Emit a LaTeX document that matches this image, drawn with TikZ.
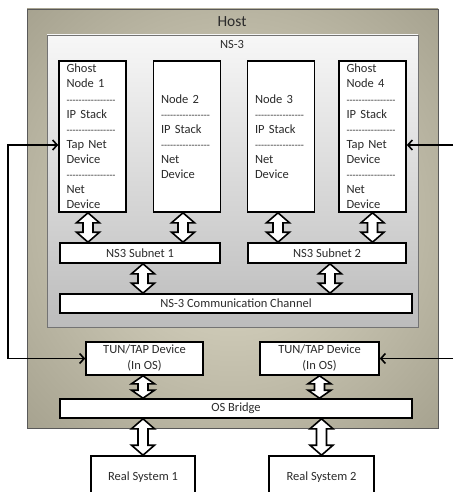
\documentclass[tikz,border=0pt]{standalone}
\usepackage{fontspec}
\setmainfont{Carlito}
\usetikzlibrary{arrows.meta,calc}
\definecolor{txt}{HTML}{2B2B2B}
\definecolor{hostin}{HTML}{E2DECB}
\definecolor{hostout}{HTML}{8E8A77}
\definecolor{nstop}{HTML}{F7F7F7}
\definecolor{nsbot}{HTML}{BCBCBC}
\pgfdeclareradialshading{hostsh}{\pgfpoint{0bp}{0bp}}{color(0bp)=(hostin); color(50bp)=(hostout); color(72bp)=(hostout)}
\newcommand\dl{{\fontsize{10}{15.1}\selectfont -\kern0pt-\kern0pt-\kern0pt-\kern0pt-\kern0pt-\kern0pt-\kern0pt-\kern0pt-\kern0pt-\kern0pt-\kern0pt-\kern0pt-\kern0pt-\kern0pt-\kern0pt-}}
\newcommand{\fatarrow}[3][10]{%
  \draw[fat] let \p1=(#2), \p2=(#3) in
    (\x1,\y1) -- ({\x1+11.5pt},{\y1-#1pt}) -- ({\x1+5pt},{\y1-#1pt}) --
    ({\x1+5pt},{\y2+#1pt}) -- ({\x1+11.5pt},{\y2+#1pt}) -- (\x1,\y2) --
    ({\x1-11.5pt},{\y2+#1pt}) -- ({\x1-5pt},{\y2+#1pt}) --
    ({\x1-5pt},{\y1-#1pt}) -- ({\x1-11.5pt},{\y1-#1pt}) -- cycle;}
\begin{document}
\begin{tikzpicture}[x=1pt,y=-1pt,
  box/.style={draw=black,line width=1.6pt,fill=white,text=txt,
    font=\fontsize{12.5}{15.1}\selectfont,inner sep=0pt,align=center},
  col/.style={box,minimum height=151pt,text width=52pt,inner xsep=7.5pt,align=left},
  lbl/.style={text=txt,inner sep=0pt},
  fat/.style={draw=black,line width=1.6pt,fill=white,line join=miter},
  tip/.tip={Straight Barb[length=4.5pt,width=10pt]},
  conn/.style={line width=1.6pt,line join=miter,-tip},
  conn2/.style={line width=1.6pt,line join=miter,tip-tip}]
\useasboundingbox (0,0) rectangle (453,492);
% host
\path[shading=hostsh,draw=black!65] (27,9) rectangle (438,428);
\node[lbl,font=\fontsize{15.5}{18}\selectfont] (hostlbl) at (232,22) {Host};
% ns-3
\path[top color=nstop,bottom color=nsbot,draw=black!55,line width=0.8pt] (47,35) rectangle (418,327);
\node[lbl,font=\fontsize{12.5}{15}\selectfont] (nslbl) at (232,44) {NS-3};
% nodes
\node[col] (g1) at (92.5,136.5) {Ghost\\Node 1\\\dl\\IP Stack\\\dl\\Tap Net\\Device\\\dl\\Net\\Device};
\node[col] (n2) at (187,136.5) {Node 2\\\dl\\IP Stack\\\dl\\Net\\Device};
\node[col] (n3) at (281,136.5) {Node 3\\\dl\\IP Stack\\\dl\\Net\\Device};
\node[col] (g4) at (372.5,136.5) {Ghost\\Node 4\\\dl\\IP Stack\\\dl\\Tap Net\\Device\\\dl\\Net\\Device};
% subnets and channel
\node[box,minimum width=160pt,minimum height=20pt] (s1) at (140,253) {NS3 Subnet 1};
\node[box,minimum width=158pt,minimum height=20pt] (s2) at (327,253) {NS3 Subnet 2};
\node[box,minimum width=352pt,minimum height=19pt] (ch) at (236,303.5) {NS-3 Communication Channel};
% tun/tap, bridge, real systems
\node[box,minimum width=117pt,minimum height=33pt,font=\fontsize{12.5}{16}\selectfont] (t1) at (144.5,358.5) {TUN/TAP Device\\(In OS)};
\node[box,minimum width=119pt,minimum height=33pt,font=\fontsize{12.5}{16}\selectfont] (t2) at (319.5,358.5) {TUN/TAP Device\\(In OS)};
\node[box,minimum width=352pt,minimum height=19pt] (br) at (236,408.5) {OS Bridge};
\node[box,minimum width=104pt,minimum height=42pt] (r1) at (143,477) {Real System 1};
\node[box,minimum width=105pt,minimum height=42pt] (r2) at (321.5,477) {Real System 2};
% fat arrows
\fatarrow{$(g1.south)+(-4.5,0)$}{s1.north}
\fatarrow{$(n2.south)+(-4,0)$}{s1.north}
\fatarrow{$(n3.south)+(-3,0)$}{s2.north}
\fatarrow{g4.south}{s2.north}
\fatarrow{$(s1.south)+(3,0)$}{ch.north}
\fatarrow{$(s2.south)+(3,0)$}{ch.north}
\fatarrow[8]{$(t1.south)+(-1.5,0)$}{br.north}
\fatarrow[8]{t2.south}{br.north}
\fatarrow{br.south -| r1}{r1.north}
\fatarrow{br.south -| r2}{r2.north}
% connectors
\coordinate (lt) at (8,145);
\coordinate (lb) at (8,358.5);
\coordinate (rt) at (453,145);
\coordinate (rb) at (453,358.5);
\draw[conn2] (g1.west |- lt) -- (lt) -- (lb) -- (t1.west);
\draw[conn] (rt) -- (g4.east |- rt);
\draw[conn] (rb) -- (t2.east);
\end{tikzpicture}
\end{document}
